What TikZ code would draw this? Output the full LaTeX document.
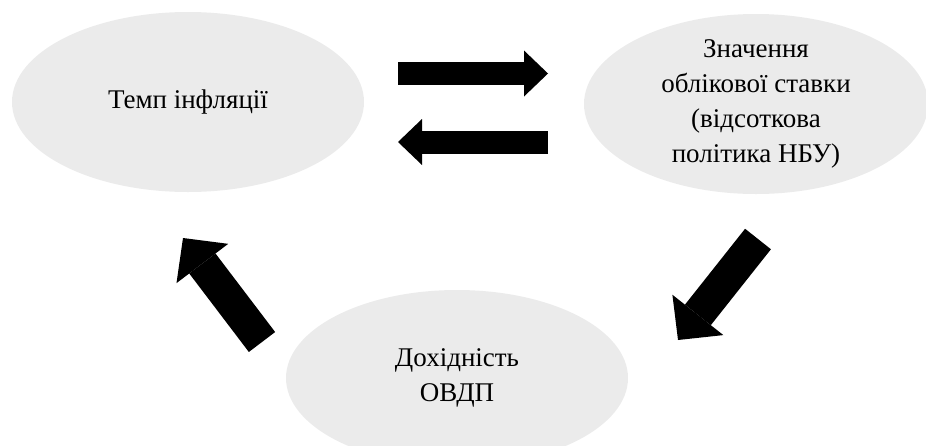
\documentclass[tikz,border=0pt]{standalone}
\usepackage{fontspec}
\setmainfont{Liberation Serif}
\usetikzlibrary{shapes.geometric,arrows.meta}
\definecolor{bubblefill}{HTML}{EBEBEB}

\begin{document}
\begin{tikzpicture}[x=1pt, y=-1pt, align=center,
  font=\fontsize{27}{35}\selectfont,
  bubble/.style={ellipse, fill=bubblefill, inner sep=-30pt},
  thinarrow/.style={line width=23pt, -{Triangle[length=24pt 0 0, width=46pt 0 0, line width=0pt]}},
  widearrow/.style={line width=33pt, -{Triangle[length=32pt 0 0, width=65pt 0 0, line width=0pt]}}]

\useasboundingbox (0,0) rectangle (926,445);

\node[bubble, minimum width=352pt, minimum height=180pt] (infl) at (188,102) {Темп інфляції};
\node[bubble, minimum width=344pt, minimum height=180pt] (rate) at (756,104) {Значення\\облікової ставки\\(відсоткова\\політика НБУ)};
\node[bubble, minimum width=342pt, minimum height=176pt] (ovdp) at (457,378) {Дохідність\\ОВДП};

\coordinate (fwdtail) at (398,73.5);
\coordinate (fwdtip) at (548,73.5);
\coordinate (backtail) at (548,142);
\coordinate (backtip) at (398,142);
\coordinate (downtail) at (758,239);
\coordinate (downtip) at (678,340);
\coordinate (uptail) at (262,342);
\coordinate (uptip) at (183,238);

\draw[thinarrow] (fwdtail) -- (fwdtip);
\draw[thinarrow] (backtail) -- (backtip);
\draw[widearrow] (downtail) -- (downtip);
\draw[widearrow] (uptail) -- (uptip);

\end{tikzpicture}
\end{document}
